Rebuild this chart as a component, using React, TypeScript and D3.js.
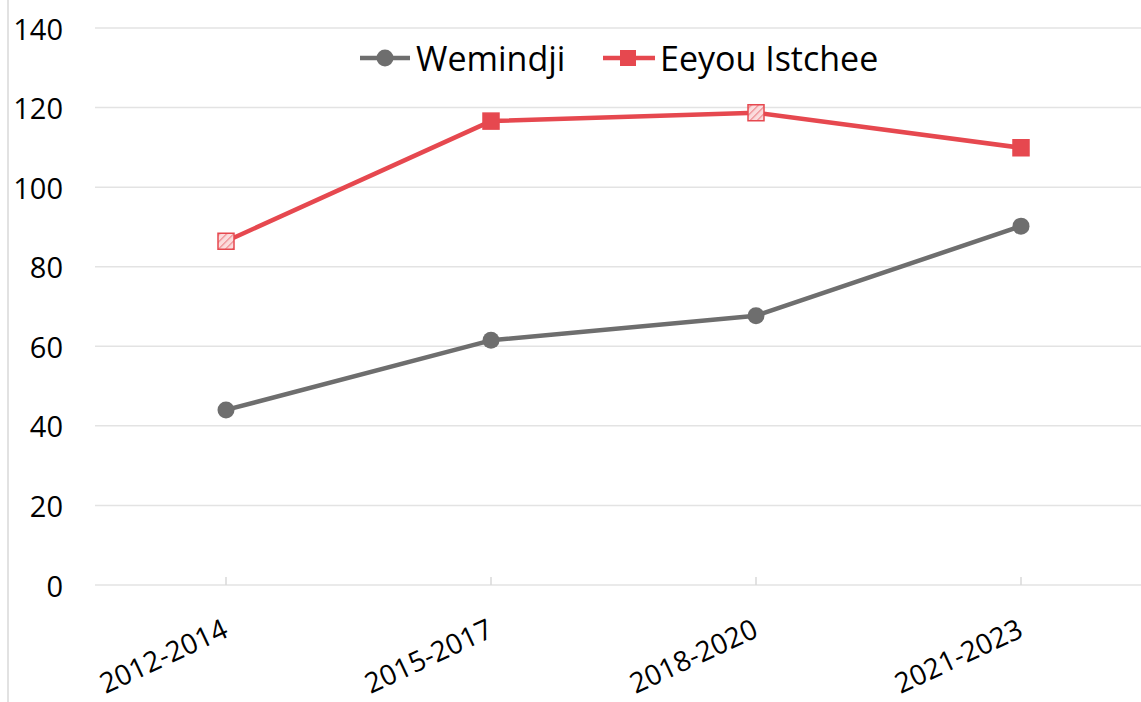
import React from "react";
import * as d3 from "d3";

const categories = ["2012-2014", "2015-2017", "2018-2020", "2021-2023"];
const wemindji = [44, 61.5, 67.7, 90.2];
const eeyou = [86.4, 116.6, 118.7, 109.9];
const eeyouHatched = [true, false, true, false];
const yTicks = [0, 20, 40, 60, 80, 100, 120, 140];

const W = 1141;
const H = 702;
const FONT = "'Open Sans', sans-serif";
const GRAY = "#6e6e6e";
const RED = "#e6484f";

export default function App() {
  const x = d3.scalePoint<string>().domain(categories).range([226, 1021]);
  const y = d3.scaleLinear().domain([0, 140]).range([585, 28]);
  const line = d3
    .line<number>()
    .x((_, i) => x(categories[i]) as number)
    .y((d) => y(d));

  return (
    <div style={{ position: "absolute", left: 0, top: 0 }}>
      <svg width={W} height={H} style={{ display: "block", fontFamily: FONT }}>
        <defs>
          <pattern id="hatch" width="5" height="5" patternUnits="userSpaceOnUse" patternTransform="rotate(45)">
            <rect width="5" height="5" fill="#fbdcdd" />
            <line x1="0" y1="0" x2="0" y2="5" stroke="#ee8a8f" strokeWidth="2.5" />
          </pattern>
        </defs>
        <rect width={W} height={H} fill="#fff" />
        <line x1={8} x2={8} y1={0} y2={H} stroke="#d9d9d9" strokeWidth={1.5} />
        {yTicks.map((t) => (
          <g key={t}>
            <line x1={95} x2={W} y1={y(t)} y2={y(t)} stroke="#e3e3e3" strokeWidth={1.5} />
            <text x={63} y={y(t)} textAnchor="end" dominantBaseline="central" fontSize={29} fill="#000">
              {t}
            </text>
          </g>
        ))}
        {categories.map((c) => (
          <g key={c}>
            <line x1={x(c)} x2={x(c)} y1={585} y2={577} stroke="#d9d9d9" strokeWidth={1.5} />
            <text
              transform={`translate(${(x(c) as number) - 1},${626}) rotate(-25)`}
              textAnchor="end"
              dominantBaseline="central"
              fontSize={28}
              fill="#000"
            >
              {c}
            </text>
          </g>
        ))}
        <path d={line(wemindji) as string} fill="none" stroke={GRAY} strokeWidth={4.5} strokeLinejoin="round" />
        {wemindji.map((v, i) => (
          <circle key={i} cx={x(categories[i])} cy={y(v)} r={8.5} fill={GRAY} />
        ))}
        <path d={line(eeyou) as string} fill="none" stroke={RED} strokeWidth={4.5} strokeLinejoin="round" />
        {eeyou.map((v, i) => (
          <rect
            key={i}
            x={(x(categories[i]) as number) - 8}
            y={y(v) - 8}
            width={16}
            height={16}
            fill={eeyouHatched[i] ? "url(#hatch)" : RED}
            stroke={RED}
            strokeWidth={1.5}
          />
        ))}
        {/* legend */}
        <g>
          <line x1={360} x2={410} y1={58} y2={58} stroke={GRAY} strokeWidth={4.5} />
          <circle cx={385} cy={58} r={8.5} fill={GRAY} />
          <text x={416} y={58} dominantBaseline="central" fontSize={34} fill="#000">
            Wemindji
          </text>
          <line x1={603} x2={655} y1={58} y2={58} stroke={RED} strokeWidth={4.5} />
          <rect x={620} y={50} width={16} height={16} fill={RED} />
          <text x={660} y={58} dominantBaseline="central" fontSize={34} fill="#000">
            Eeyou Istchee
          </text>
        </g>
      </svg>
    </div>
  );
}
